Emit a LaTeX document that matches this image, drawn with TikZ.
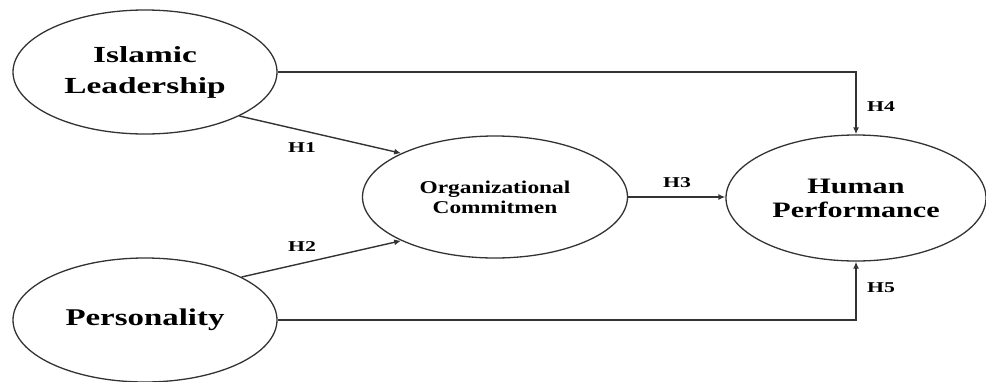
\documentclass[tikz,border=0pt]{standalone}
\usepackage{fontspec}
\setmainfont{Liberation Serif}
\newfontfamily\stra{Liberation Serif}[FakeStretch=1.45]
\newfontfamily\strb{Liberation Serif}[FakeStretch=1.37]
\newfontfamily\strc{Liberation Serif}[FakeStretch=1.3]
\usetikzlibrary{shapes.geometric,arrows.meta}
\definecolor{linec}{HTML}{333333}
\tikzset{
  construct/.style={ellipse, draw=linec, line width=1.3pt, inner sep=0pt, align=center, fill=white},
  link/.style={draw=linec, line width=1.4pt, -{Latex[length=7pt,width=6pt]}},
  hlab/.style={font=\stra\bfseries\fontsize{15}{17}\selectfont, inner sep=1pt}
}
\begin{document}
\begin{tikzpicture}[x=1pt,y=-1pt]
\useasboundingbox (0,0) rectangle (986,381);
\node[construct, minimum width=264pt, minimum height=124pt, font=\stra\bfseries\fontsize{23}{31}\selectfont] (IL) at (145,72) {Islamic\\Leadership};
\node[construct, minimum width=264pt, minimum height=124pt, font=\strb\bfseries\fontsize{24}{28}\selectfont] (PE) at (145,320) {Personality};
\node[construct, minimum width=265pt, minimum height=122pt, font=\strc\bfseries\fontsize{18}{20}\selectfont] (OC) at (495,197) {Organizational\\Commitmen};
\node[construct, minimum width=260pt, minimum height=126pt, font=\strb\bfseries\fontsize{22}{24}\selectfont] (HP) at (856,198) {Human\\Performance};
\draw[link] (IL.east) -| (HP.north);
\draw[link] (PE.east) -| (HP.south);
\draw[link] (IL.-25) -- (OC.155);
\draw[link] (PE.24) -- (OC.205);
\draw[link] (OC.east) -- (OC.east -| HP.west);
\node[hlab] (h1) at (302,148) {H1};
\node[hlab] (h2) at (302,247) {H2};
\node[hlab] (h3) at (677,183) {H3};
\node[hlab] (h4) at (881,107) {H4};
\node[hlab] (h5) at (881,288) {H5};
\end{tikzpicture}
\end{document}
